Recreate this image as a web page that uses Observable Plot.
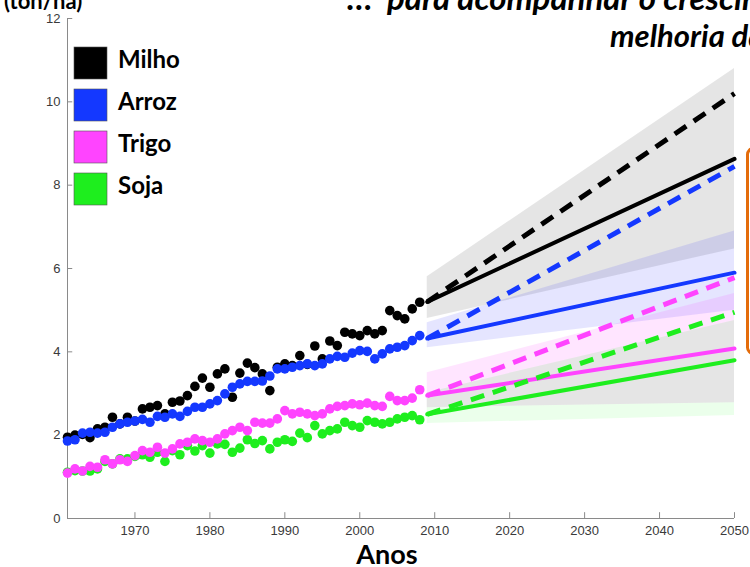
<!DOCTYPE html>
<html>
<head>
<meta charset="utf-8">
<script src="https://cdn.jsdelivr.net/npm/d3@7"></script>
<script src="https://cdn.jsdelivr.net/npm/@observablehq/plot@0.6"></script>
<style>
  html, body { margin: 0; padding: 0; background: #fff; overflow: hidden; }
  #wrap { position: relative; width: 750px; height: 567px; overflow: hidden; }
  #wrap > svg { position: absolute; left: 0; top: 0; }
</style>
</head>
<body>
<div id="wrap"></div>
<script>
// ---- data ----
const startYear = 1961;
const crops = ["Milho", "Arroz", "Trigo", "Soja"];
const cropColors = ["#000000", "#1438ff", "#ff44ff", "#1eee1e"];

const milho = [1.95,2.00,2.02,1.94,2.15,2.19,2.43,2.27,2.43,2.34,2.63,2.67,2.71,2.51,2.79,2.82,2.95,3.17,3.37,3.15,3.47,3.59,2.91,3.49,3.73,3.62,3.47,3.07,3.63,3.71,3.67,3.91,3.70,4.14,3.83,4.26,4.15,4.47,4.43,4.39,4.51,4.43,4.51,4.99,4.87,4.79,5.03,5.19];
const arroz = [1.86,1.89,2.05,2.07,2.05,2.07,2.19,2.27,2.31,2.34,2.38,2.31,2.45,2.43,2.51,2.45,2.57,2.67,2.67,2.75,2.83,2.99,3.15,3.23,3.29,3.29,3.30,3.42,3.59,3.59,3.63,3.67,3.71,3.67,3.71,3.83,3.89,3.87,3.97,4.03,4.01,3.83,3.95,4.07,4.11,4.15,4.27,4.39];
const trigo = [1.09,1.19,1.14,1.25,1.23,1.41,1.31,1.41,1.37,1.51,1.63,1.59,1.71,1.57,1.67,1.79,1.83,1.91,1.87,1.83,1.91,2.03,2.11,2.19,2.11,2.31,2.29,2.29,2.39,2.59,2.51,2.55,2.51,2.47,2.51,2.63,2.69,2.71,2.75,2.73,2.77,2.71,2.69,2.93,2.83,2.83,2.89,3.09];
const soja  = [1.11,1.15,1.14,1.14,1.19,1.37,1.31,1.43,1.43,1.49,1.53,1.47,1.59,1.37,1.63,1.53,1.75,1.62,1.75,1.57,1.79,1.78,1.59,1.69,1.89,1.80,1.87,1.67,1.83,1.89,1.85,2.05,1.94,2.23,2.03,2.11,2.15,2.31,2.23,2.19,2.35,2.31,2.27,2.31,2.39,2.43,2.47,2.37];

// projections 2009 -> 2050 (solid = trend, dashed = required)
const projYears = [2009, 2050];
const milhoTrend = [5.20, 8.63],  milhoReq = [5.20, 10.2];
const arrozTrend = [4.32, 5.90],  arrozReq = [4.32, 8.45];
const trigoTrend = [2.95, 4.08],  trigoReq = [2.95, 5.78];
const sojaTrend  = [2.50, 3.80],  sojaReq  = [2.50, 4.95];

// shaded ranges (low / high at 2009 and 2050)
const milhoBandLo = [4.80, 6.47], milhoBandHi = [5.80, 10.8];
const arrozBandLo = [4.10, 5.00], arrozBandHi = [4.70, 6.90];
const trigoBandLo = [3.02, 4.75], trigoBandHi = [3.50, 5.40];
const grayBandLo  = [2.66, 2.78], grayBandHi  = [3.02, 4.75];
const sojaBandLo  = [2.28, 2.47], sojaBandHi  = [2.66, 2.78];

const xTicks = [1970, 1980, 1990, 2000, 2010, 2020, 2030, 2040, 2050];
const yTicks = [0, 2, 4, 6, 8, 10, 12];

// ---- tables ----
const series = [milho, arroz, trigo, soja];
const obs = series.flatMap((vals, k) => vals.map((v, i) => ({year: startYear + i, value: v, crop: crops[k]})));
const obsDraw = [...obs.filter(d => d.crop === "Soja"), ...obs.filter(d => d.crop === "Trigo"), ...obs.filter(d => d.crop === "Milho"), ...obs.filter(d => d.crop === "Arroz")];
const proj = (arr, crop) => projYears.map((y, i) => ({year: y, value: arr[i], crop}));
const trendLines = [proj(milhoTrend,"Milho"), proj(arrozTrend,"Arroz"), proj(trigoTrend,"Trigo"), proj(sojaTrend,"Soja")].flat();
const reqLines = [proj(milhoReq,"Milho"), proj(arrozReq,"Arroz"), proj(trigoReq,"Trigo"), proj(sojaReq,"Soja")].flat();
const band = (lo, hi) => projYears.map((y, i) => ({year: y, lo: lo[i], hi: hi[i]}));

const plot = Plot.plot({
  width: 750, height: 567,
  marginLeft: 67, marginRight: 16, marginTop: 18, marginBottom: 49,
  x: {domain: [1961, 2050]},
  y: {domain: [0, 12]},
  color: {domain: crops, range: cropColors},
  style: {fontFamily: "'Liberation Sans', Arial, sans-serif", fontSize: "13px", color: "#3a3a3a", background: "transparent"},
  marks: [
    Plot.areaY(band(milhoBandLo, milhoBandHi), {x: "year", y1: "lo", y2: "hi", fill: "#000", fillOpacity: 0.1}),
    Plot.areaY(band(arrozBandLo, arrozBandHi), {x: "year", y1: "lo", y2: "hi", fill: "#0000ff", fillOpacity: 0.1}),
    Plot.areaY(band(trigoBandLo, trigoBandHi), {x: "year", y1: "lo", y2: "hi", fill: "#ff00ff", fillOpacity: 0.1}),
    Plot.areaY(band(grayBandLo, grayBandHi), {x: "year", y1: "lo", y2: "hi", fill: "#000", fillOpacity: 0.1}),
    Plot.areaY(band(sojaBandLo, sojaBandHi), {x: "year", y1: "lo", y2: "hi", fill: "#00ff00", fillOpacity: 0.08}),
    Plot.ruleX([1961], {y1: 0, y2: 12, stroke: "#8a8a8a"}),
    Plot.ruleY([0], {x1: 1961, x2: 2050, stroke: "#8a8a8a"}),
    Plot.ruleX(xTicks, {y1: 0, y2: 0.14, stroke: "#8a8a8a"}),
    Plot.ruleY(yTicks, {x1: 1961, x2: 1961.7, stroke: "#8a8a8a"}),
    Plot.axisX({ticks: xTicks, tickSize: 0, tickPadding: 7, tickFormat: d => String(d), label: null, fontSize: 13}),
    Plot.axisY({ticks: yTicks, tickSize: 0, tickPadding: 7, label: null, fontSize: 13}),
    Plot.dot(obsDraw, {x: "year", y: "value", fill: "crop", r: 4.8}),
    Plot.line(trendLines, {x: "year", y: "value", z: "crop", stroke: "crop", strokeWidth: 4}),
    Plot.line(reqLines, {x: "year", y: "value", z: "crop", stroke: "crop", strokeWidth: 5, strokeDasharray: "14,9", strokeLinecap: "butt"})
  ]
});
const wrap = document.getElementById("wrap");
wrap.appendChild(plot);

// ---- overlay texts, legend, box ----
const svg = d3.select(wrap).append("svg").attr("width", 750).attr("height", 567)
  .style("font-family", "Lato, 'Open Sans', sans-serif");

svg.append("text").attr("x", 4).attr("y", 9).attr("font-size", 22).attr("font-weight", 700)
  .attr("fill", "#000").text("(ton/ha)");
svg.append("text").attr("x", 347).attr("y", 10).attr("font-size", 33).attr("font-weight", 700)
  .attr("font-style", "italic").attr("fill", "#000").attr("xml:space", "preserve").text("…  para acompanhar o crescimento");
svg.append("text").attr("x", 610).attr("y", 47).attr("font-size", 31).attr("font-weight", 700)
  .attr("font-style", "italic").attr("fill", "#000").text("melhoria da");
svg.append("text").attr("x", 387).attr("y", 564).attr("text-anchor", "middle").attr("font-size", 27)
  .attr("font-weight", 700).attr("fill", "#000").text("Anos");

const leg = svg.append("g");
crops.forEach((c, i) => {
  leg.append("rect").attr("x", 74).attr("y", 47 + i * 42).attr("width", 33).attr("height", 32)
    .attr("fill", cropColors[i]).attr("stroke", "#555").attr("stroke-width", 0.6);
  leg.append("text").attr("x", 118).attr("y", 68 + i * 42).attr("font-size", 24).attr("font-weight", 700)
    .attr("fill", "#000").text(c);
});

svg.append("rect").attr("x", 747.5).attr("y", 148.5).attr("width", 40).attr("height", 205).attr("rx", 6)
  .attr("fill", "#fff").attr("stroke", "#e46c0a").attr("stroke-width", 3);
</script>
</body>
</html>
